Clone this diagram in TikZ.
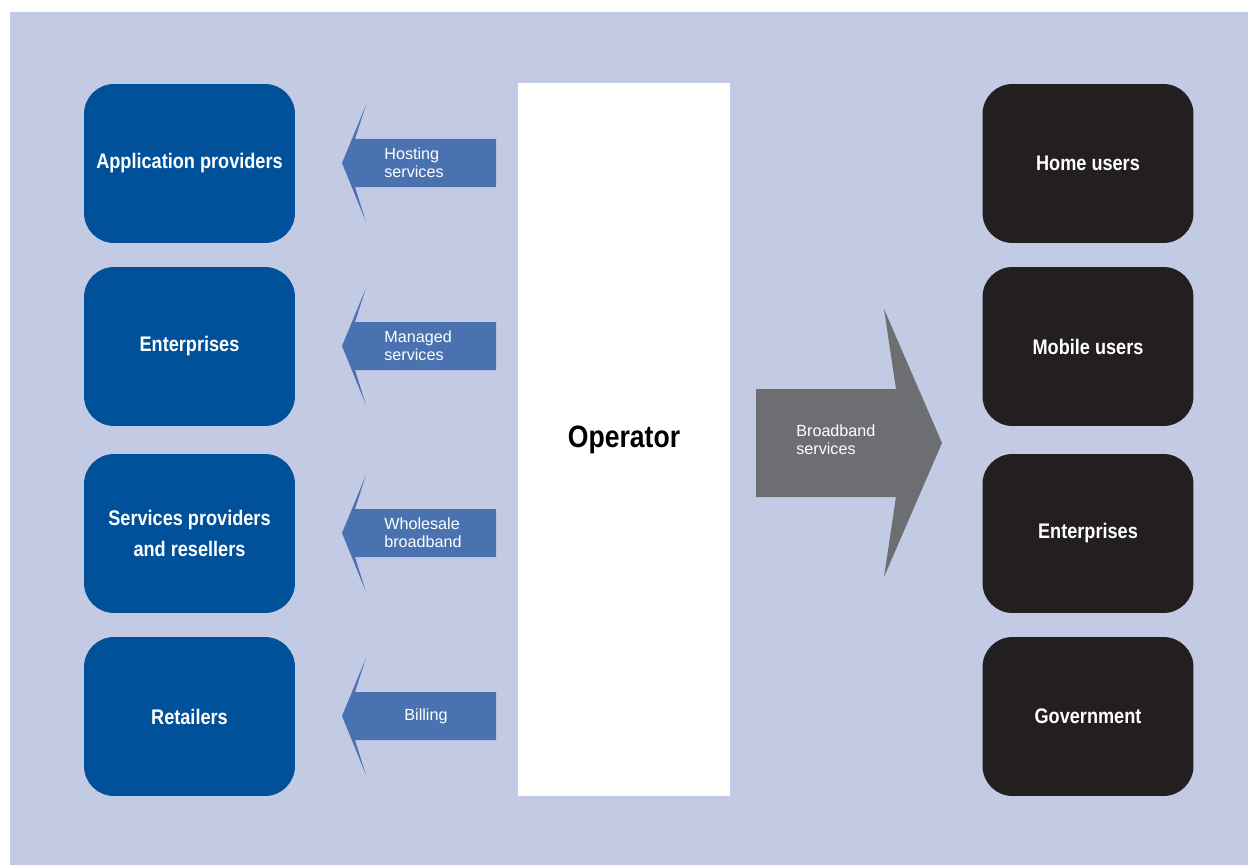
\documentclass[tikz,border=0pt]{standalone}
\usepackage{fontspec}
\setmainfont{Liberation Sans}
\newfontfamily\boxfont[FakeStretch=0.86]{Liberation Sans}
\usepackage{tikz}
\usetikzlibrary{
arrows.meta,
positioning,
calc
}
\definecolor{opback}{HTML}{C3CBE4}
\definecolor{opblue}{HTML}{00509A}
\definecolor{oparrow}{HTML}{4A72B0}
\definecolor{opdark}{HTML}{231F20}
\definecolor{opgray}{HTML}{6D6E71}

\tikzset{
  partner/.style={fill=opblue, rounded corners=0.6cm, minimum width=4.22cm,
    minimum height=3.18cm, text=white, align=center,
    font=\boxfont\bfseries\fontsize{12}{18}\selectfont},
  customer/.style={partner, fill=opdark},
  flowlabel/.style={text=white, align=left, inner sep=0pt,
    font=\fontsize{9.2}{10.2}\selectfont}
}

\begin{document}
\begin{tikzpicture}[x=0.02cm, y=-0.02cm]

% Frame and background
\useasboundingbox (0,0) rectangle (1248,865);
\fill[white] (0,0) rectangle (1248,865);
\fill[opback] (10,12) rectangle (1248,865);

% Operator column
\node[fill=white, minimum width=4.24cm, minimum height=14.26cm, inner sep=0pt,
  font=\boxfont\bfseries\fontsize{17.6}{20}\selectfont] (operator) at (624,439.5) {Operator};

% Partners (left) and customers (right)
\node[partner] (apps) at (189.5,163.5) {Application providers};
\node[partner] (ent) at (189.5,346.5) {Enterprises};
\node[partner] (spr) at (189.5,533.5) {Services providers\\and resellers};
\node[partner] (ret) at (189.5,716.5) {Retailers};

\node[customer] (home) at (1088,163.5) {Home users};
\node[customer] (mob) at (1088,346.5) {Mobile users};
\node[customer] (entc) at (1088,533.5) {Enterprises};
\node[customer] (gov) at (1088,716.5) {Government};

% Services sold to partners (left arrows)
\foreach \c in {163,346,533,716} {
  \fill[oparrow] (496,\c-24) -- (355,\c-24) -- (366,\c-58) -- (342,\c)
    -- (366,\c+59) -- (355,\c+24) -- (496,\c+24) -- cycle;
}
\node[flowlabel, anchor=west] (host) at (384,163) {Hosting\\services};
\node[flowlabel, anchor=west] (mgd) at (384,346) {Managed\\services};
\node[flowlabel, anchor=west] (whole) at (384,533) {Wholesale\\broadband};
\node[flowlabel] (bill) at (426,716) {Billing};

% Broadband to customers (right arrow)
\fill[opgray] (756,389) -- (896,389) -- (884,309) -- (942,443)
  -- (884,577) -- (896,497) -- (756,497) -- cycle;
\node[flowlabel, anchor=west] (bb) at (796,440) {Broadband\\services};

\end{tikzpicture}
\end{document}
